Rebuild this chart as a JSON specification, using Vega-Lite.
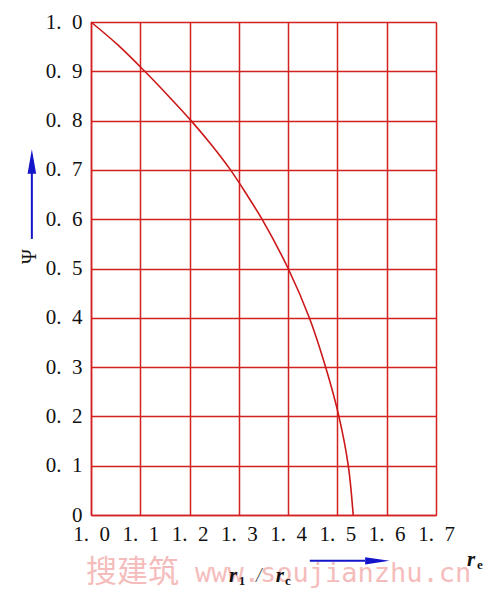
{
  "$schema": "https://vega.github.io/schema/vega-lite/v6.json",
  "width": 345,
  "height": 493,
  "autosize": {"type": "none"},
  "padding": {"left": 91, "top": 22, "right": 59, "bottom": 85},
  "background": "white",
  "config": {"view": {"stroke": null}},
  "datasets": {
    "curve": [
      {"x": 1.0, "y": 1.0},
      {"x": 1.055, "y": 0.953},
      {"x": 1.109, "y": 0.9},
      {"x": 1.157, "y": 0.85},
      {"x": 1.203, "y": 0.8},
      {"x": 1.245, "y": 0.75},
      {"x": 1.283, "y": 0.7},
      {"x": 1.316, "y": 0.65},
      {"x": 1.347, "y": 0.6},
      {"x": 1.4, "y": 0.5},
      {"x": 1.443, "y": 0.4},
      {"x": 1.476, "y": 0.3},
      {"x": 1.503, "y": 0.2},
      {"x": 1.522, "y": 0.1},
      {"x": 1.532, "y": 0.0}
    ],
    "arrows": [
      {"x": 1.444, "x2": 1.556, "y": -0.093, "y2": -0.093},
      {"x": 0.88, "x2": 0.88, "y": 0.56, "y2": 0.7}
    ],
    "heads": [
      {"x": 1.581, "y": -0.093, "s": "M-1,-0.3L1,0L-1,0.3Z"},
      {"x": 0.88, "y": 0.717, "s": "M-0.35,1L0,-1L0.35,1Z"}
    ],
    "letters": [
      {"x": 1.28, "y": -0.136, "t": "r"},
      {"x": 1.375, "y": -0.136, "t": "r"},
      {"x": 1.763, "y": -0.1035, "t": "r"}
    ],
    "slash": [
      {"x": 1.335, "y": -0.136, "t": "/"}
    ],
    "subs": [
      {"x": 1.3, "y": -0.142, "t": "1"},
      {"x": 1.3935, "y": -0.142, "t": "c"},
      {"x": 1.783, "y": -0.1095, "t": "e"}
    ],
    "wmcjk": [
      {"x": 0.99, "y": -0.1359, "t": "搜建筑"}
    ],
    "wmlat": [
      {"x": 1.211, "y": -0.1359, "t": "www.soujianzhu.cn"}
    ]
  },
  "encoding": {
    "x": {
      "field": "x",
      "type": "quantitative",
      "scale": {"domain": [1.0, 1.7], "nice": false, "zero": false},
      "axis": {
        "values": [1.0, 1.1, 1.2, 1.3, 1.4, 1.5, 1.6, 1.7],
        "labelExpr": "replace(format(datum.value, '.1f'), '.', '.\u2002')",
        "title": null,
        "grid": true,
        "gridColor": "#d42020",
        "gridWidth": 1.5,
        "gridOpacity": 1,
        "domainColor": "#d42020",
        "domainWidth": 1.5,
        "ticks": false,
        "labelFont": "Liberation Serif, Times New Roman, DejaVu Serif, serif",
        "labelFontSize": 21,
        "labelColor": "#111",
        "labelPadding": 8,
        "labelFlush": false,
        "labelOverlap": false
      }
    },
    "y": {
      "field": "y",
      "type": "quantitative",
      "scale": {"domain": [0, 1], "nice": false, "zero": false},
      "axis": {
        "values": [0, 0.1, 0.2, 0.3, 0.4, 0.5, 0.6, 0.7, 0.8, 0.9, 1.0],
        "labelExpr": "datum.value == 0 ? '0' : replace(format(datum.value, '.1f'), '.', '.\u2002')",
        "title": "Ψ",
        "titleFont": "Liberation Serif, Times New Roman, DejaVu Serif, serif",
        "titleFontSize": 20,
        "titleFontWeight": "normal",
        "titleColor": "#111",
        "titleX": -62,
        "titleY": 234,
        "titleBaseline": "middle",
        "titleAlign": "center",
        "titleAngle": -90,
        "grid": true,
        "gridColor": "#d42020",
        "gridWidth": 1.5,
        "gridOpacity": 1,
        "domainColor": "#d42020",
        "domainWidth": 1.5,
        "ticks": false,
        "labelFont": "Liberation Serif, Times New Roman, DejaVu Serif, serif",
        "labelFontSize": 21,
        "labelColor": "#111",
        "labelPadding": 9,
        "labelFlush": false,
        "labelOverlap": false
      }
    }
  },
  "layer": [
    {
      "data": {"name": "curve"},
      "mark": {"type": "line", "color": "#cc1818", "strokeWidth": 1.6, "interpolate": "catmull-rom"}
    },
    {
      "data": {"name": "arrows"},
      "mark": {"type": "rule", "color": "#1414c8", "strokeWidth": 2},
      "encoding": {"x2": {"field": "x2"}, "y2": {"field": "y2"}}
    },
    {
      "data": {"name": "heads"},
      "mark": {"type": "point", "filled": true, "color": "#1414c8", "opacity": 1, "size": 600},
      "encoding": {"shape": {"field": "s", "type": "nominal", "scale": null}}
    },
    {
      "data": {"name": "wmcjk"},
      "mark": {"type": "text", "font": "Noto Sans CJK SC", "fontSize": 31, "color": "#f5bcbc", "align": "left", "baseline": "alphabetic"},
      "encoding": {"text": {"field": "t"}}
    },
    {
      "data": {"name": "wmlat"},
      "mark": {"type": "text", "font": "DejaVu Sans Mono", "fontSize": 27, "color": "#f5bcbc", "align": "left", "baseline": "alphabetic"},
      "encoding": {"text": {"field": "t"}}
    },
    {
      "data": {"name": "letters"},
      "mark": {"type": "text", "font": "Liberation Serif, Times New Roman, DejaVu Serif, serif", "fontSize": 21, "fontStyle": "italic", "fontWeight": "bold", "color": "#111", "align": "left", "baseline": "alphabetic"},
      "encoding": {"text": {"field": "t"}}
    },
    {
      "data": {"name": "slash"},
      "mark": {"type": "text", "font": "Liberation Serif, Times New Roman, DejaVu Serif, serif", "fontSize": 20, "fontStyle": "italic", "color": "#555", "align": "left", "baseline": "alphabetic"},
      "encoding": {"text": {"field": "t"}}
    },
    {
      "data": {"name": "subs"},
      "mark": {"type": "text", "font": "Liberation Serif, Times New Roman, DejaVu Serif, serif", "fontSize": 13, "fontWeight": "bold", "color": "#111", "align": "left", "baseline": "alphabetic"},
      "encoding": {"text": {"field": "t"}}
    }
  ]
}
